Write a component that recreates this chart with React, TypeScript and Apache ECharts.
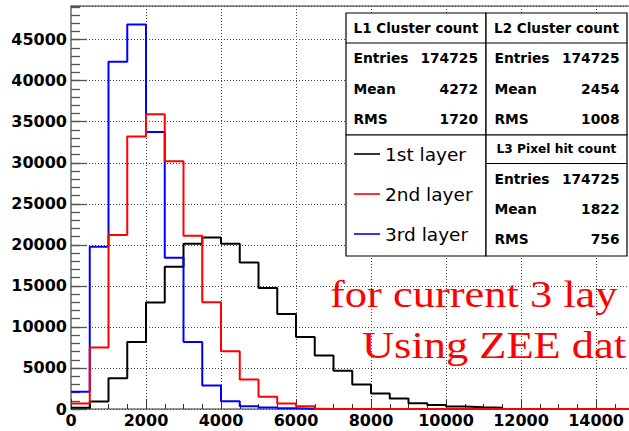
import React, { useEffect, useRef } from "react";
import * as echarts from "echarts";

// ---- Histogram definition ----
const BIN_WIDTH = 500;
const X_MIN = 0;
const X_MAX = 15000;
const Y_MIN = 0;
const Y_MAX = 49100;
const X_MAJOR = 2000;
const X_MINOR = 500;
const Y_MAJOR = 5000;
const Y_MINOR = 1000;

// ---- Data (bin contents, bins of 500) ----
const seriesNames = ["1st layer", "2nd layer", "3rd layer"];
const seriesColors = ["#000000", "#ff0000", "#0000ff"];
const layer1Counts = [
  150, 910, 3750, 8170, 12990, 17340, 20130, 20900, 20130, 17860,
  14740, 11580, 8780, 6510, 4650, 2980, 1890, 1280, 710, 480,
  300, 220, 160, 0, 0, 0, 0, 0, 0, 0,
];
const layer2Counts = [
  670, 7480, 21190, 33200, 35900, 30200, 21100, 13000, 7030, 3590,
  1480, 670, 340, 0, 0, 0, 0, 0, 0, 0,
  0, 0, 0, 0, 0, 0, 0, 0, 0, 0,
];
const layer3Counts = [
  2090, 19770, 42310, 46860, 33760, 18430, 8170, 2860, 950, 340,
  180, 80, 40, 0, 0, 0, 0, 0, 0, 0,
  0, 0, 0, 0, 0, 0, 0, 0, 0, 0,
];

// ---- Stats boxes ----
const statsTitles = ["L1 Cluster count", "L2 Cluster count", "L3 Pixel hit count"];
const statsLabels = ["Entries", "Mean", "RMS"];
const statsEntries = [174725, 174725, 174725];
const statsMeans = [4272, 2454, 1822];
const statsRms = [1720, 1008, 756];

// as visible in the (cropped) picture
const annotationLines = ["for current 3 lay", "Using ZEE dat"];

function toSteps(counts: number[]): number[][] {
  const pts = counts.map((c, i) => [X_MIN + i * BIN_WIDTH, c]);
  pts.push([X_MIN + counts.length * BIN_WIDTH, counts[counts.length - 1]]);
  return pts;
}

const BOLD = { fontFamily: "DejaVu Sans", fontWeight: "bold" as const };

function txt(text: string, x: number, y: number, align: string, size: number, extra: any = {}) {
  return {
    type: "text",
    x,
    y,
    z: 20,
    style: {
      text,
      fill: "#000",
      fontSize: size,
      ...BOLD,
      align,
      textAlign: align,
      verticalAlign: "middle",
      textVerticalAlign: "middle",
      ...extra,
    },
  };
}

function rect(x: number, y: number, w: number, h: number) {
  return {
    type: "rect",
    z: 15,
    shape: { x, y, width: w, height: h },
    style: { fill: "#ffffff", stroke: "#000", lineWidth: 1.2 },
  };
}

function hline(x1: number, x2: number, y: number) {
  return {
    type: "line",
    z: 16,
    shape: { x1, y1: y, x2, y2: y },
    style: { stroke: "#000", lineWidth: 1.2 },
  };
}

function buildGraphic() {
  const L = 346, M = 486, R = 627, T = 13, MID = 135, B = 256;
  const els: any[] = [];
  els.push(rect(L, T, M - L, MID - T));
  els.push(rect(M, T, R - M, MID - T));
  els.push(rect(L, MID, M - L, B - MID));
  els.push(rect(M, MID, R - M, B - MID));
  els.push(hline(L, R, 43));
  els.push(hline(M, R, 163.5));

  const boxes = [
    { cx: (L + M) / 2, lx: 353.5, rx: 478, titleY: 28.3, rowYs: [58.3, 89.3, 118.7], titleSize: 13.5 },
    { cx: (M + R) / 2, lx: 494.5, rx: 619.5, titleY: 28.3, rowYs: [58.3, 89.3, 118.7], titleSize: 13.5 },
    { cx: (M + R) / 2, lx: 494.5, rx: 619.5, titleY: 149.3, rowYs: [179.3, 209.3, 239.3], titleSize: 12.2 },
  ];
  boxes.forEach((b, i) => {
    els.push(txt(statsTitles[i], b.cx, b.titleY, "center", b.titleSize));
    const vals = [statsEntries[i], statsMeans[i], statsRms[i]];
    statsLabels.forEach((lab, j) => {
      els.push(txt(lab, b.lx, b.rowYs[j], "left", 13.8));
      els.push(txt(String(vals[j]), b.rx, b.rowYs[j], "right", 13.8));
    });
  });

  const annY = [294, 345.5];
  const annX = [330, 362];
  annotationLines.forEach((t, i) => {
    els.push({
      type: "text",
      x: annX[i],
      y: annY[i],
      scaleX: 1.17,
      z: 20,
      style: {
        text: t,
        fill: "#ff0000",
        fontFamily: "Liberation Serif",
        fontSize: 38,
        align: "left",
        textAlign: "left",
        verticalAlign: "middle",
        textVerticalAlign: "middle",
      },
    });
  });
  return els;
}

export default function App() {
  const ref = useRef<HTMLDivElement>(null);
  useEffect(() => {
    if (!ref.current) return;
    const chart = echarts.init(ref.current, undefined, { renderer: "svg" });
    const counts = [layer1Counts, layer2Counts, layer3Counts];
    const zs = [3, 5, 4];
    const plain = (v: number) => String(v);
    const option: any = {
      animation: false,
      backgroundColor: "#ffffff",
      grid: {
        left: 71,
        top: 6,
        right: 6.5,
        bottom: 22,
        show: true,
        borderColor: "#333",
        borderWidth: 1,
        backgroundColor: "#ffffff",
      },
      legend: {
        orient: "vertical",
        left: 349,
        top: 139.5,
        z: 30,
        icon: "rect",
        itemWidth: 26,
        itemHeight: 1.6,
        itemGap: 21,
        data: seriesNames,
        textStyle: { fontFamily: "DejaVu Sans", fontSize: 18.5, color: "#000", lineHeight: 18 },
      },
      xAxis: [
        {
          type: "value",
          min: X_MIN,
          max: X_MAX,
          interval: X_MAJOR,
          axisLine: { show: false },
          axisTick: { show: true, inside: true, length: 10, lineStyle: { color: "#333", width: 1 } },
          axisLabel: {
            color: "#000",
            fontFamily: "DejaVu Sans",
            fontWeight: "bold",
            fontSize: 16,
            margin: 3,
            showMaxLabel: false,
            formatter: plain,
          },
          splitLine: { show: true, lineStyle: { type: [1, 2], color: "#444", width: 1 } },
        },
        {
          type: "value",
          position: "bottom",
          min: X_MIN,
          max: X_MAX,
          interval: X_MINOR,
          axisLine: { show: false },
          axisTick: { show: true, inside: true, length: 5, lineStyle: { color: "#333", width: 1 } },
          axisLabel: { show: false },
          splitLine: { show: false },
        },
      ],
      yAxis: [
        {
          type: "value",
          min: Y_MIN,
          max: Y_MAX,
          interval: Y_MAJOR,
          axisLine: { show: true, onZero: false, lineStyle: { color: "#8c8c8c", width: 2 } },
          axisTick: { show: true, inside: true, length: 16, lineStyle: { color: "#555", width: 1.3 } },
          axisLabel: {
            color: "#000",
            fontFamily: "DejaVu Sans",
            fontWeight: "bold",
            fontSize: 16,
            margin: 4,
            showMaxLabel: false,
            formatter: plain,
          },
          splitLine: { show: true, lineStyle: { type: [1, 2], color: "#444", width: 1 } },
        },
        {
          type: "value",
          position: "left",
          offset: 0,
          min: Y_MIN,
          max: Y_MAX,
          interval: Y_MINOR,
          axisLine: { show: false },
          axisTick: { show: true, inside: true, length: 9, lineStyle: { color: "#555", width: 1.3 } },
          axisLabel: { show: false },
          splitLine: { show: false },
        },
      ],
      series: counts.map((c, i) => ({
        name: seriesNames[i],
        type: "line",
        step: "end",
        clip: false,
        xAxisIndex: 0,
        yAxisIndex: 0,
        data: toSteps(c),
        showSymbol: false,
        symbol: "none",
        z: zs[i],
        lineStyle: { color: seriesColors[i], width: 2 },
        itemStyle: { color: seriesColors[i] },
      })),
      graphic: { elements: buildGraphic() },
    };
    chart.setOption(option);
    return () => chart.dispose();
  }, []);
  return (
    <div
      ref={ref}
      style={{ position: "fixed", left: 0, top: 0, width: 640, height: 431 }}
    />
  );
}
